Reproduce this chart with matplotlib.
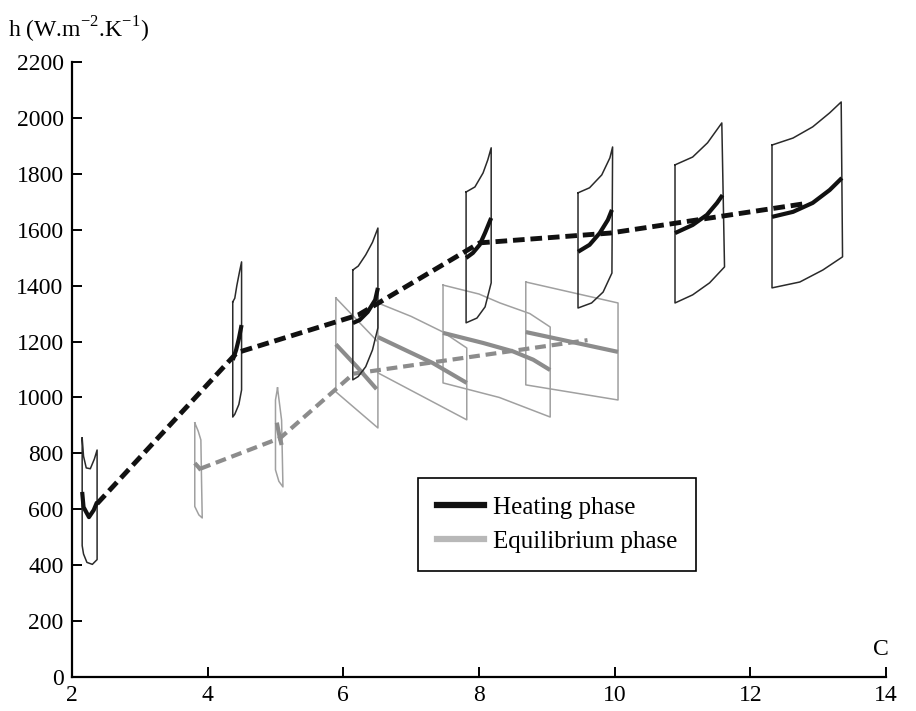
import matplotlib
matplotlib.use('Agg')
import matplotlib.pyplot as plt
from matplotlib.lines import Line2D

plt.rcParams['font.family'] = ['Liberation Serif', 'DejaVu Serif']
plt.rcParams['mathtext.fontset'] = 'custom'
plt.rcParams['mathtext.rm'] = 'Liberation Serif'

# Heating phase: sheet outlines (x, y) and the h curve inside each sheet
heat_sheets = [
    [(2.15, 855), (2.17, 790), (2.21, 748), (2.27, 745), (2.33, 780), (2.37, 812),
     (2.37, 420), (2.30, 403), (2.22, 410), (2.17, 440), (2.15, 470), (2.15, 855)],
    [(4.37, 1342), (4.40, 1355), (4.43, 1400), (4.47, 1450), (4.50, 1485),
     (4.50, 1027), (4.46, 975), (4.40, 940), (4.37, 930), (4.37, 1342)],
    [(6.14, 1456), (6.22, 1470), (6.33, 1510), (6.43, 1555), (6.51, 1606),
     (6.51, 1249), (6.43, 1170), (6.33, 1110), (6.22, 1075), (6.14, 1063), (6.14, 1456)],
    [(7.81, 1735), (7.94, 1753), (8.06, 1803), (8.13, 1850), (8.18, 1893),
     (8.18, 1410), (8.09, 1324), (7.97, 1284), (7.81, 1267), (7.81, 1735)],
    [(9.46, 1732), (9.63, 1750), (9.81, 1796), (9.93, 1857), (9.97, 1896),
     (9.96, 1445), (9.83, 1377), (9.66, 1338), (9.46, 1320), (9.46, 1732)],
    [(10.89, 1832), (11.15, 1860), (11.37, 1911), (11.58, 1982),
     (11.62, 1467), (11.40, 1410), (11.15, 1367), (10.89, 1338), (10.89, 1832)],
    [(12.32, 1903), (12.63, 1928), (12.92, 1968), (13.17, 2018), (13.34, 2057),
     (13.36, 1503), (13.07, 1456), (12.73, 1413), (12.32, 1392), (12.32, 1903)],
]
heat_curves = [
    [(2.15, 662), (2.17, 608), (2.25, 572), (2.32, 597), (2.37, 626)],
    [(4.37, 1134), (4.42, 1170), (4.46, 1210), (4.50, 1259)],
    [(6.14, 1266), (6.24, 1277), (6.36, 1306), (6.47, 1349), (6.51, 1392)],
    [(7.81, 1499), (7.91, 1517), (8.01, 1546), (8.09, 1589), (8.18, 1642)],
    [(9.46, 1521), (9.63, 1546), (9.78, 1588), (9.90, 1635), (9.96, 1671)],
    [(10.89, 1588), (11.15, 1617), (11.36, 1653), (11.51, 1696), (11.59, 1724)],
    [(12.32, 1646), (12.63, 1664), (12.92, 1696), (13.17, 1742), (13.35, 1785)],
]
heat_trend_x = [2.37, 4.43, 6.22, 8.01, 9.93, 12.85]
heat_trend_y = [620, 1160, 1295, 1553, 1588, 1695]

# Equilibrium phase
equi_sheets = [
    [(3.81, 909), (3.86, 880), (3.90, 848), (3.91, 700), (3.92, 569),
     (3.87, 580), (3.81, 610), (3.81, 909)],
    [(5.03, 1034), (5.00, 991), (5.00, 741), (5.05, 700), (5.11, 680),
     (5.10, 800), (5.09, 919), (5.03, 1034)],
    [(5.89, 1356), (6.51, 1199), (6.51, 891), (5.89, 1020), (5.89, 1356)],
    [(6.51, 1338), (7.00, 1290), (7.47, 1234), (7.82, 1177),
     (7.82, 920), (6.51, 1088), (6.51, 1338)],
    [(7.47, 1402), (8.00, 1370), (8.31, 1338), (8.75, 1300), (9.05, 1252),
     (9.05, 930), (8.30, 1000), (7.47, 1052), (7.47, 1402)],
    [(8.69, 1413), (10.05, 1338), (10.05, 991), (8.69, 1045), (8.69, 1413)],
]
equi_curves = [
    [(3.81, 765), (3.86, 752), (3.90, 740)],
    [(5.02, 910), (5.06, 860), (5.09, 830)],
    [(5.89, 1190), (6.20, 1110), (6.49, 1030)],
    [(6.51, 1216), (7.32, 1123), (7.82, 1052)],
    [(7.47, 1231), (8.06, 1195), (8.50, 1165), (8.80, 1135), (9.05, 1098)],
    [(8.69, 1234), (10.05, 1163)],
]
equi_trend_x = [3.89, 5.07, 6.15, 9.60]
equi_trend_y = [745, 855, 1085, 1205]

x_ticks = [2, 4, 6, 8, 10, 12, 14]
y_ticks = list(range(0, 2201, 200))

HEAT_COLOR = '#111111'
EQUI_COLOR = '#8c8c8c'
EQUI_EDGE = '#a0a0a0'
LEGEND_GRAY = '#b8b8b8'

fig = plt.figure(figsize=(9.16, 7.11), dpi=100)
ax = fig.add_axes([0.0786, 0.0478, 0.8886, 0.865])

for sheet in equi_sheets:
    xs, ys = zip(*sheet)
    ax.plot(xs, ys, color=EQUI_EDGE, lw=1.1, zorder=2)
for curve in equi_curves:
    xs, ys = zip(*curve)
    ax.plot(xs, ys, color=EQUI_COLOR, lw=3, solid_capstyle='butt', zorder=3)
ax.plot(equi_trend_x, equi_trend_y, color=EQUI_COLOR, lw=3,
        linestyle=(0, (2.6, 1.4)), zorder=3)

for sheet in heat_sheets:
    xs, ys = zip(*sheet)
    ax.plot(xs, ys, color='#2a2a2a', lw=1.1, zorder=4)
for curve in heat_curves:
    xs, ys = zip(*curve)
    ax.plot(xs, ys, color=HEAT_COLOR, lw=3, solid_capstyle='butt', zorder=5)
ax.plot(heat_trend_x, heat_trend_y, color=HEAT_COLOR, lw=3.5,
        linestyle=(0, (2.4, 1.2)), zorder=5)

ax.set_xlim(2, 14)
ax.set_ylim(0, 2200)
ax.set_xticks(x_ticks)
ax.set_yticks(y_ticks)
for side in ['top', 'right']:
    ax.spines[side].set_visible(False)
for side in ['left', 'bottom']:
    ax.spines[side].set_linewidth(1.6)
ax.tick_params(direction='in', length=7, width=1.4, labelsize=17, pad=6)

ax.text(13.93, 60, 'C', fontsize=17, ha='center', va='bottom')
fig.text(0.009, 0.958, r'h (W.m$^{\mathregular{-2}}$.K$^{\mathregular{-1}}$)',
         fontsize=17, ha='left', va='center')

handles = [Line2D([], [], color=HEAT_COLOR, lw=4.5),
           Line2D([], [], color=LEGEND_GRAY, lw=4.5)]
leg = ax.legend(handles, ['Heating phase', 'Equilibrium phase'],
                loc='upper left', bbox_to_anchor=(0.425, 0.324),
                fontsize=18, frameon=True, fancybox=False, framealpha=1,
                edgecolor='black', handlelength=1.9, handletextpad=0.35,
                borderpad=0.75, labelspacing=0.45, borderaxespad=0)
leg.get_frame().set_linewidth(1.2)

fig.savefig('out.png', dpi=100, facecolor='white')
